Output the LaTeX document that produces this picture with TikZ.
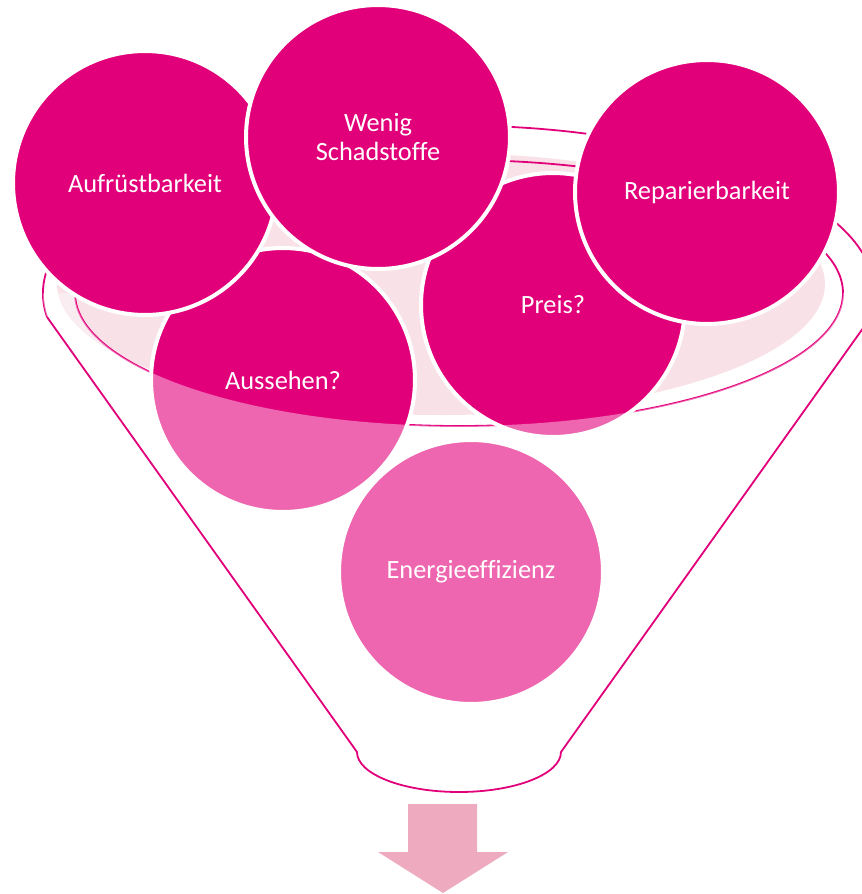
\documentclass[tikz,border=0pt]{standalone}
\usepackage{fontspec}
\setmainfont{Carlito}[Ligatures=CommonOff]
\usepackage{tikz}

\definecolor{funnelmag}{HTML}{E2007A}
\definecolor{rimpink}{HTML}{F8E2E8}
\definecolor{arrowpink}{HTML}{EEABBF}

\begin{document}
\begin{tikzpicture}[
    x=0.02cm, y=-0.02cm,
    bubble/.style={circle, draw=white, line width=0.08cm, fill=funnelmag,
                   minimum size=5.28cm, inner sep=0pt, align=center,
                   text=white, font=\fontsize{15}{16}\selectfont},
    rim/.style={draw=funnelmag, line width=0.036cm},
]
\useasboundingbox (0,0) rectangle (862,894);

% Opening of the funnel
\fill[rimpink] (441,284) ellipse [x radius=384, y radius=131];
\draw[rim] (459,293) ellipse [x radius=384, y radius=133];
\draw[rim] (47,317) arc [start angle=172, end angle=368, x radius=416, y radius=168];

% Bubbles
\node[bubble] (energie) at (471,572) {Energieeffizienz};
\node[bubble] (aussehen) at (283,380) {Aussehen?};
\node[bubble] (preis) at (553,305) {Preis?};
\node[bubble] (aufruest) at (145,183) {Aufrüstbarkeit};
\node[bubble] (wenig) at (378,137) {Wenig\\Schadstoffe};
\node[bubble] (repar) at (707,192) {Reparierbarkeit};

% Front of the funnel
\begin{scope}
  \clip (47,317) arc [start angle=172, end angle=368, x radius=416, y radius=168]
    -- (561,752) arc [start angle=0, end angle=180, x radius=102, y radius=40] -- cycle;
  \fill[white, opacity=0.4] (75,293) arc [start angle=180, end angle=0, x radius=384, y radius=133]
    -- (900,293) -- (900,900) -- (0,900) -- (0,293) -- cycle;
\end{scope}
\draw[rim] (871,317) -- (561,752) arc [start angle=0, end angle=180, x radius=102, y radius=40] -- (47,317);

% Output arrow
\fill[arrowpink] (408,804) -- (477,804) -- (477,852) -- (508,852) -- (443,893)
  -- (378,852) -- (408,852) -- cycle;
\end{tikzpicture}
\end{document}
